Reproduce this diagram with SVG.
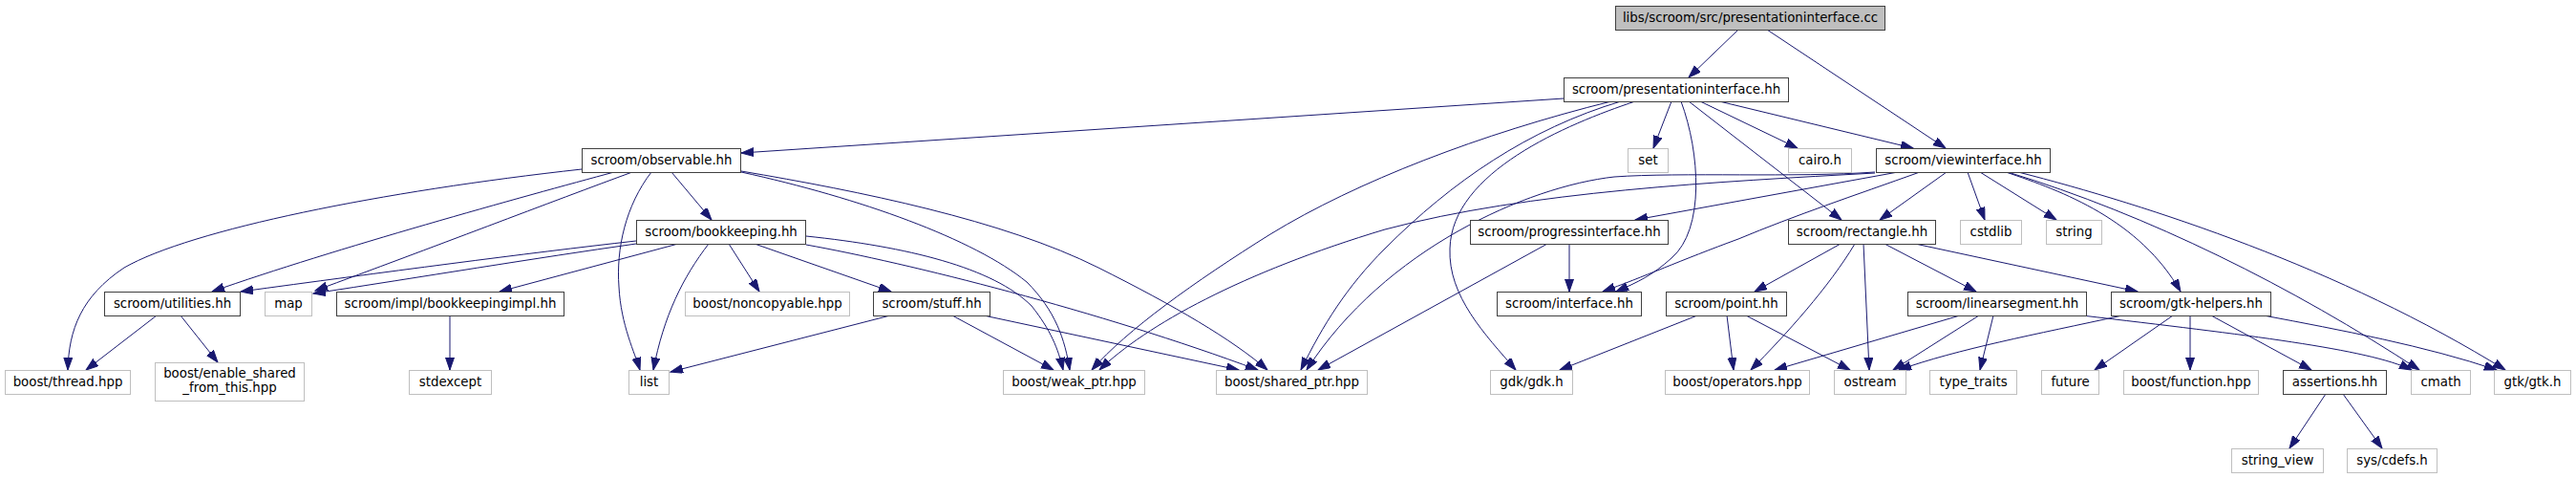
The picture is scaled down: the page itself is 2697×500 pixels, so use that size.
<svg xmlns="http://www.w3.org/2000/svg" width="2697" height="500" viewBox="0 0 2697 500">
<style>
.n rect{stroke-width:1}
.d rect{fill:#ffffff;stroke:#404040}
.u rect{fill:#ffffff;stroke:#bfbfbf}
.r rect{fill:#bfbfbf;stroke:#404040}
text{font-family:"DejaVu Sans","Liberation Sans",sans-serif;font-size:13.33px;fill:#000000;text-anchor:middle}
#edges path{fill:none;stroke:#191970;stroke-width:1;marker-end:url(#ah)}
</style>
<defs>
<marker id="ah" markerUnits="userSpaceOnUse" markerWidth="14" markerHeight="10" refX="13" refY="4.5" orient="auto">
<path d="M0,0 L13,4.5 L0,9 z" fill="#191970" stroke="#191970" stroke-width="1"/>
</marker>
</defs>
<rect x="0" y="0" width="2697" height="500" fill="#ffffff"/>
<g id="edges">
<path d="M1820,31 L1768,81"/>
<path d="M1850,31 L2037,155"/>
<path d="M1637,103 L776,160"/>
<path d="M1750,106 L1731,155"/>
<path d="M1780,106 L1882,155"/>
<path d="M1800,106 L2003,155"/>
<path d="M1768,106 L1928,230"/>
<path d="M1760,106 C1780,160 1785,240 1750,270 C1730,288 1715,295 1692,305"/>
<path d="M1712,106 C1640,130 1520,180 1518,260 C1516,310 1555,350 1587,387"/>
<path d="M1697,106 C1600,135 1520,190 1450,260 C1410,300 1385,340 1362,387"/>
<path d="M1687,106 C1550,140 1420,190 1330,245 C1250,295 1180,345 1143,387"/>
<path d="M1963,180 C1880,186 1760,180 1690,185 C1600,195 1450,260 1368,387"/>
<path d="M1963,181 C1800,190 1600,200 1450,240 C1300,285 1200,340 1151,387"/>
<path d="M1987,180 L1712,230"/>
<path d="M2010,180 C1940,205 1880,225 1820,250 C1760,272 1720,290 1678,305"/>
<path d="M2038,180 L1968,230"/>
<path d="M2060,180 L2078,230"/>
<path d="M2073,180 L2153,230"/>
<path d="M2100,180 C2160,200 2240,230 2283,305"/>
<path d="M2102,180 C2250,225 2400,300 2533,387"/>
<path d="M2113,180 C2250,215 2450,280 2623,387"/>
<path d="M1927,255 L1837,305"/>
<path d="M1942,255 C1915,300 1870,350 1833,387"/>
<path d="M1951,255 L1957,387"/>
<path d="M1973,255 L2069,305"/>
<path d="M2005,255 L2238,305"/>
<path d="M1777,330 L1633,387"/>
<path d="M1808,330 L1815,387"/>
<path d="M1828,330 L1937,387"/>
<path d="M2052,330 L1858,387"/>
<path d="M2072,330 L1982,387"/>
<path d="M2087,330 L2073,387"/>
<path d="M2180,330 C2350,350 2480,365 2525,387"/>
<path d="M2222,330 C2130,350 2050,365 1988,387"/>
<path d="M2275,330 L2193,387"/>
<path d="M2293,330 L2293,387"/>
<path d="M2315,330 L2420,387"/>
<path d="M2370,330 C2450,345 2540,362 2614,387"/>
<path d="M2435,412 L2397,469"/>
<path d="M2453,412 L2494,469"/>
<path d="M1643,255 L1643,305"/>
<path d="M1620,255 L1380,387"/>
<path d="M609,177 C400,200 200,240 130,280 C85,310 72,345 71,387"/>
<path d="M643,180 C550,205 350,260 222,305"/>
<path d="M662,180 C580,210 450,260 330,304"/>
<path d="M682,180 C655,215 645,260 648,300 C650,340 665,370 670,387"/>
<path d="M703,180 L745,230"/>
<path d="M776,180 C900,207 1020,250 1075,295 C1105,325 1115,355 1120,387"/>
<path d="M776,179 C900,200 1050,230 1150,280 C1230,320 1290,355 1327,387"/>
<path d="M666,252 C550,265 400,285 252,305"/>
<path d="M666,255 C560,270 440,290 328,307"/>
<path d="M710,255 L523,305"/>
<path d="M742,255 C715,290 695,330 684,387"/>
<path d="M763,255 L795,305"/>
<path d="M790,255 L933,305"/>
<path d="M844,247 C950,258 1040,280 1080,320 C1100,345 1108,365 1113,387"/>
<path d="M844,256 C950,275 1150,325 1317,387"/>
<path d="M471,330 L471,387"/>
<path d="M164,330 L90,387"/>
<path d="M189,330 L228,379"/>
<path d="M932,330 L702,389"/>
<path d="M997,330 L1103,387"/>
<path d="M1030,330 L1297,387"/>
</g>
<g id="root" class="n r"><rect x="1691.5" y="6.5" width="282" height="25"/><text x="1832.5" y="23">libs/scroom/src/presentationinterface.cc</text></g>
<g id="presentationinterface" class="n d"><rect x="1637.5" y="81.5" width="235" height="25"/><text x="1755" y="98">scroom/presentationinterface.hh</text></g>
<g id="observable" class="n d"><rect x="609.5" y="155.5" width="166" height="25"/><text x="692.5" y="172">scroom/observable.hh</text></g>
<g id="set" class="n u"><rect x="1704.5" y="155.5" width="42" height="25"/><text x="1725.5" y="172">set</text></g>
<g id="cairo" class="n u"><rect x="1872.5" y="155.5" width="66" height="25"/><text x="1905.5" y="172">cairo.h</text></g>
<g id="viewinterface" class="n d"><rect x="1964.5" y="155.5" width="182" height="25"/><text x="2055.5" y="172">scroom/viewinterface.hh</text></g>
<g id="bookkeeping" class="n d"><rect x="666.5" y="230.5" width="177" height="25"/><text x="755" y="247">scroom/bookkeeping.hh</text></g>
<g id="progressinterface" class="n d"><rect x="1539.5" y="230.5" width="207" height="25"/><text x="1643" y="247">scroom/progressinterface.hh</text></g>
<g id="rectangle" class="n d"><rect x="1872.5" y="230.5" width="154" height="25"/><text x="1949.5" y="247">scroom/rectangle.hh</text></g>
<g id="cstdlib" class="n u"><rect x="2052.5" y="230.5" width="64" height="25"/><text x="2084.5" y="247">cstdlib</text></g>
<g id="string" class="n u"><rect x="2142.5" y="230.5" width="58" height="25"/><text x="2171.5" y="247">string</text></g>
<g id="utilities" class="n d"><rect x="109.5" y="305.5" width="142" height="25"/><text x="180.5" y="322">scroom/utilities.hh</text></g>
<g id="map" class="n u"><rect x="277.5" y="305.5" width="49" height="25"/><text x="302" y="322">map</text></g>
<g id="bookkeepingimpl" class="n d"><rect x="352.5" y="305.5" width="238" height="25"/><text x="471.5" y="322">scroom/impl/bookkeepingimpl.hh</text></g>
<g id="noncopyable" class="n u"><rect x="717.5" y="305.5" width="172" height="25"/><text x="803.5" y="322">boost/noncopyable.hpp</text></g>
<g id="stuff" class="n d"><rect x="914.5" y="305.5" width="122" height="25"/><text x="975.5" y="322">scroom/stuff.hh</text></g>
<g id="interface" class="n d"><rect x="1567.5" y="305.5" width="151" height="25"/><text x="1643" y="322">scroom/interface.hh</text></g>
<g id="point" class="n d"><rect x="1744.5" y="305.5" width="126" height="25"/><text x="1807.5" y="322">scroom/point.hh</text></g>
<g id="linearsegment" class="n d"><rect x="1997.5" y="305.5" width="187" height="25"/><text x="2091" y="322">scroom/linearsegment.hh</text></g>
<g id="gtkhelpers" class="n d"><rect x="2210.5" y="305.5" width="167" height="25"/><text x="2294" y="322">scroom/gtk-helpers.hh</text></g>
<g id="thread" class="n u"><rect x="5.5" y="387.5" width="131" height="25"/><text x="71" y="404">boost/thread.hpp</text></g>
<g id="enable_shared" class="n u"><rect x="162.5" y="379.5" width="156" height="40"/><text x="240.5" y="395">boost/enable_shared</text><text x="240.5" y="410">_from_this.hpp</text></g>
<g id="stdexcept" class="n u"><rect x="428.5" y="387.5" width="86" height="25"/><text x="471.5" y="404">stdexcept</text></g>
<g id="list" class="n u"><rect x="658.5" y="387.5" width="42" height="25"/><text x="679.5" y="404">list</text></g>
<g id="weak_ptr" class="n u"><rect x="1050.5" y="387.5" width="148" height="25"/><text x="1124.5" y="404">boost/weak_ptr.hpp</text></g>
<g id="shared_ptr" class="n u"><rect x="1273.5" y="387.5" width="158" height="25"/><text x="1352.5" y="404">boost/shared_ptr.hpp</text></g>
<g id="gdk" class="n u"><rect x="1560.5" y="387.5" width="86" height="25"/><text x="1603.5" y="404">gdk/gdk.h</text></g>
<g id="operators" class="n u"><rect x="1743.5" y="387.5" width="151" height="25"/><text x="1819" y="404">boost/operators.hpp</text></g>
<g id="ostream" class="n u"><rect x="1920.5" y="387.5" width="75" height="25"/><text x="1958" y="404">ostream</text></g>
<g id="type_traits" class="n u"><rect x="2020.5" y="387.5" width="91" height="25"/><text x="2066" y="404">type_traits</text></g>
<g id="future" class="n u"><rect x="2137.5" y="387.5" width="60" height="25"/><text x="2167.5" y="404">future</text></g>
<g id="function" class="n u"><rect x="2223.5" y="387.5" width="141" height="25"/><text x="2294" y="404">boost/function.hpp</text></g>
<g id="assertions" class="n d"><rect x="2390.5" y="387.5" width="108" height="25"/><text x="2444.5" y="404">assertions.hh</text></g>
<g id="cmath" class="n u"><rect x="2524.5" y="387.5" width="62" height="25"/><text x="2555.5" y="404">cmath</text></g>
<g id="gtk" class="n u"><rect x="2611.5" y="387.5" width="80" height="25"/><text x="2651.5" y="404">gtk/gtk.h</text></g>
<g id="string_view" class="n u"><rect x="2336.5" y="469.5" width="96" height="25"/><text x="2384.5" y="486">string_view</text></g>
<g id="cdefs" class="n u"><rect x="2457.5" y="469.5" width="94" height="25"/><text x="2504.5" y="486">sys/cdefs.h</text></g>
</svg>
